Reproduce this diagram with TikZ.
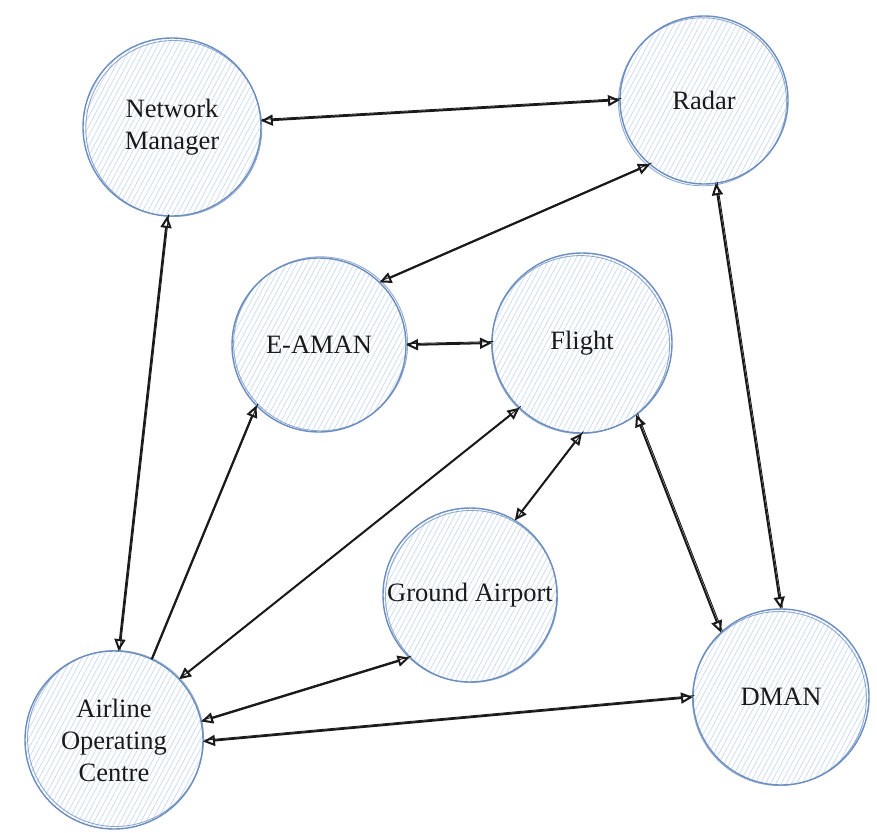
\documentclass[tikz,border=0pt]{standalone}
\usepackage{fontspec}
\setmainfont{Liberation Serif}
\usetikzlibrary{arrows.meta,patterns.meta}
\definecolor{rim}{HTML}{6C8EBF}
\definecolor{hatch}{HTML}{C3D5EE}
\definecolor{ink}{HTML}{1A1A1A}
\tikzset{
  ent/.style={circle, draw=rim, line width=1.4pt, minimum size=#1,
    inner sep=0pt, outer sep=0pt, align=center, text=ink,
    pattern={Lines[angle=62,distance=4.6pt,line width=0.6pt]},
    pattern color=hatch,
    font=\fontsize{26.5}{32}\selectfont},
  rim2/.style={draw=rim, line width=0.9pt, opacity=0.75},
  link/.style={draw=ink, line width=2pt,
    {Triangle[open,length=12pt,width=11pt]}-{Triangle[open,length=12pt,width=11pt]},
    postaction={draw=ink, -, line width=0.9pt,
      transform canvas={shift={(1.4pt,1.4pt)}}}},
  oneway/.style={draw=ink, line width=2pt,
    -{Triangle[open,length=12pt,width=11pt]},
    postaction={draw=ink, -, line width=0.9pt,
      transform canvas={shift={(1.4pt,1.4pt)}}}},
}
\begin{document}
\begin{tikzpicture}[x=1pt,y=-1pt]
\useasboundingbox (0,0) rectangle (877,832);

% entities
\node[ent=178pt] (nm)     at (172,127) {Network\\Manager};
\node[ent=168pt] (radar)  at (704,100) {Radar};
\node[ent=174pt] (eaman)  at (319,345) {E-AMAN};
\node[ent=180pt] (flight) at (582,343) {Flight};
\node[ent=174pt] (ground) at (470,595) {Ground Airport};
\node[ent=178pt] (aoc)    at (114,740) {Airline\\Operating\\Centre};
\node[ent=176pt] (dman)   at (781,697) {DMAN};

% second, slightly offset outlines for a hand-drawn rim
\draw[rim2] (nm.center)     ++(1.8,1.5)  circle[radius=88];
\draw[rim2] (radar.center)  ++(-1.5,1.8) circle[radius=84];
\draw[rim2] (eaman.center)  ++(1.6,-1.2) circle[radius=87];
\draw[rim2] (flight.center) ++(-1.4,1.6) circle[radius=89];
\draw[rim2] (ground.center) ++(1.5,1.4)  circle[radius=86];
\draw[rim2] (aoc.center)    ++(1.6,-1.5) circle[radius=88];
\draw[rim2] (dman.center)   ++(-1.6,1.5) circle[radius=87];

% information flows
\draw[link] (nm.4.4)      -- (radar.180);
\draw[link] (radar.230)   -- (eaman.46);
\draw[link] (eaman.0)     -- (flight.180);
\draw[link] (nm.267)      -- (aoc.87);
\draw[oneway] (aoc.65)    -- (eaman.224.5);
\draw[link] (aoc.43)      -- (flight.226);
\draw[link] (flight.270)  -- (ground.59.6);
\draw[link] (radar.278)   -- (dman.90);
\draw[link] (flight.307.5) -- (dman.133);
\draw[link] (aoc.12)      -- (ground.226.8);
\draw[link] (aoc.359)     -- (dman.180);
\end{tikzpicture}
\end{document}
